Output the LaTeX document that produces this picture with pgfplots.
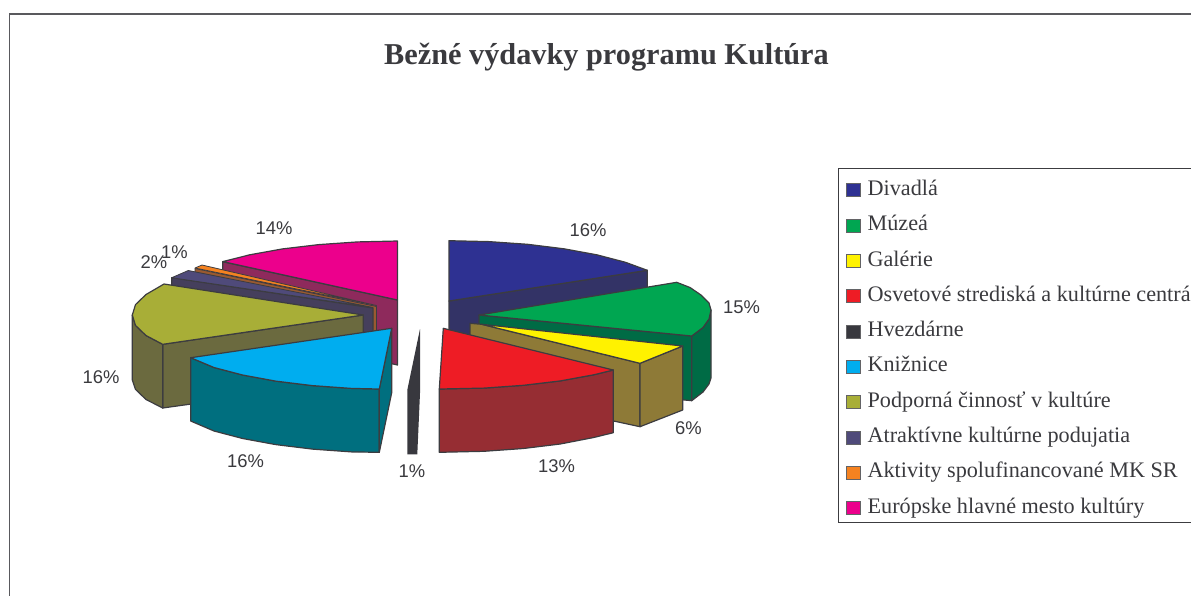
\documentclass[border=0pt]{standalone}
\usepackage{pgfplots}
\pgfplotsset{compat=1.18}
\usepackage{fontspec}
\setmainfont{Liberation Serif}
\newfontfamily\lab{Liberation Sans}
\newcommand\e[1]{\hspace*{4pt}#1}
\definecolor{edge}{HTML}{3C3C40}
\definecolor{tx}{HTML}{3A3A3E}
\definecolor{cBlue}{HTML}{2E3192}\definecolor{wBlue}{HTML}{333366}
\definecolor{cGreen}{HTML}{00A651}\definecolor{wGreen}{HTML}{006B45}
\definecolor{cYel}{HTML}{FFF200}\definecolor{wYel}{HTML}{8E7A37}
\definecolor{cRed}{HTML}{EE1C25}\definecolor{wRed}{HTML}{962D33}
\definecolor{cBlk}{HTML}{38383E}
\definecolor{cCyan}{HTML}{00ADEF}\definecolor{wCyan}{HTML}{006F7F}
\definecolor{cOli}{HTML}{A8AE37}\definecolor{wOli}{HTML}{6B6A3F}
\definecolor{cPur}{HTML}{4F4A7A}\definecolor{wPur}{HTML}{453F5C}
\definecolor{cOra}{HTML}{F58220}\definecolor{wOra}{HTML}{9A5A30}
\definecolor{cPink}{HTML}{EC008C}\definecolor{wPink}{HTML}{8E2A5C}
\pgfplotsset{
  sl/.style={fill=#1,draw=edge,line width=1.2pt,line join=round,forget plot},
  sq/.style={legend image code/.code={\draw[fill=#1,draw=edge!80,line width=0.9pt] (0pt,-6.5pt) rectangle (13.5pt,6.5pt);}}
}
\begin{document}
\begin{tikzpicture}
\path[use as bounding box] (0,0) rectangle (1191pt,595pt);
\begin{axis}[
  at={(0,0)},anchor=south west,
  scale only axis,width=1191pt,height=595pt,
  xmin=0,xmax=1191,ymin=0,ymax=595,y dir=reverse,
  hide axis,no markers,
  legend cell align=left,
  legend style={at={(axis cs:841,176.7)},anchor=north west,draw=none,fill=none,
    font=\fontsize{22.2}{24}\selectfont\color{tx},
    inner xsep=5pt,inner ysep=3.5pt,row sep=15.3pt,
    nodes={text height=15pt,text depth=5pt,inner sep=0pt,inner xsep=3pt}},
]
% legend entries, in the reference's order
\addlegendimage{sq=cBlue}\addlegendentry{\e{Divadlá}}
\addlegendimage{sq=cGreen}\addlegendentry{\e{Múzeá}}
\addlegendimage{sq=cYel}\addlegendentry{\e{Galérie}}
\addlegendimage{sq=cRed}\addlegendentry{\e{Osvetové strediská a kultúrne centrá}}
\addlegendimage{sq=cBlk}\addlegendentry{\e{Hvezdárne}}
\addlegendimage{sq=cCyan}\addlegendentry{\e{Knižnice}}
\addlegendimage{sq=cOli}\addlegendentry{\e{Podporná činnosť v kultúre}}
\addlegendimage{sq=cPur}\addlegendentry{\e{Atraktívne kultúrne podujatia}}
\addlegendimage{sq=cOra}\addlegendentry{\e{Aktivity spolufinancované MK SR}}
\addlegendimage{sq=cPink}\addlegendentry{\e{Európske hlavné mesto kultúry}}
% frame
\addplot[draw=edge!85,line width=1.5pt,forget plot] coordinates {(9.5,600) (9.5,14) (1200,14)};
% legend frame
\addplot[draw=edge,line width=0.9pt,forget plot] coordinates {(1200,168) (838,168) (838,522) (1200,522)};
% Divadla
\addplot[sl=wBlue] coordinates {(449,301) (647.3,270.3) (647.3,334) (449,365)} -- cycle;
\addplot[sl=cBlue] coordinates {(449,240.7) (488.9,241.6) (527.7,244.3) (564,248.8) (596.8,254.8) (625.2,262.2) (647.3,270.3) (449,301)} -- cycle;
% Muzea
\addplot[sl=wGreen] coordinates {(479,315) (479,380) (691.7,400.7) (691.7,336)} -- cycle;
\addplot[sl=wGreen] coordinates {(691.7,336) (703,327.5) (709,319) (711,310) (711,378) (709,384) (703,392) (691.7,400.7)} -- cycle;
\addplot[sl=cGreen] coordinates {(479,315) (676.7,282.3) (690,287.5) (701,295) (709,303) (711,310) (709,319) (703,327.5) (691.7,336)} -- cycle;
% Galerie
\addplot[sl=wYel] coordinates {(470,323.3) (481.7,324.3) (640,363.3) (640,426.7) (470,390)} -- cycle;
\addplot[sl=wYel] coordinates {(640,363.3) (682.7,346) (682.7,410) (640,426.7)} -- cycle;
\addplot[sl=cYel] coordinates {(481.7,324.3) (682.7,346) (640,363.3)} -- cycle;
% Osvetove
\addplot[sl=wRed] coordinates {(439.3,389) (483.9,388.1) (523.3,385.3) (560.3,380.9) (593.7,374.8) (613.3,370) (613.3,432.7) (593.7,437.5) (560.3,444) (523.3,448.5) (483.9,451.3) (439.3,452.3)} -- cycle;
\addplot[sl=cRed] coordinates {(443.3,328.3) (613.3,370) (593.7,374.8) (560.3,380.9) (523.3,385.3) (483.9,388.1) (439.3,389)} -- cycle;
% Europske
\addplot[sl=wPink] coordinates {(222.7,261.7) (397.5,300) (397.5,365) (222.7,326)} -- cycle;
\addplot[sl=cPink] coordinates {(397.5,241) (357.6,241.9) (318.8,244.6) (282.5,248.9) (249.7,254.8) (222.8,261.6) (397.5,300)} -- cycle;
% Aktivity
\addplot[sl=wOra,line width=0.8pt] coordinates {(195,268.5) (376.5,306.5) (376.5,371) (195,333)} -- cycle;
\addplot[sl=cOra,line width=0.8pt] coordinates {(195,268) (202,265) (376.5,305.5)} -- cycle;
% Atraktivne
\addplot[sl=wPur] coordinates {(171.7,277.7) (373,308) (373,372) (171.7,342)} -- cycle;
\addplot[sl=cPur,line width=0.8pt] coordinates {(171.7,277.7) (188.3,270.5) (373,307.5)} -- cycle;
% Podporna
\addplot[sl=wOli] coordinates {(162.7,344.3) (363.3,315) (363.3,380) (162.7,408)} -- cycle;
\addplot[sl=wOli] coordinates {(132.3,315) (135.5,325.4) (146,335.5) (162.7,344.3) (162.7,408) (146,399.5) (135.5,389.4) (132.3,380)} -- cycle;
\addplot[sl=cOli] coordinates {(363.3,315) (164,284) (146,294.5) (135.5,304.6) (132.3,315) (135.5,325.4) (146,335.5) (162.7,344.3)} -- cycle;
% Kniznice
\addplot[sl=wCyan] coordinates {(190.7,357.7) (214,367.5) (242.6,375) (275.7,381.1) (312.4,385.6) (351.4,388.4) (379.3,389) (379.3,452.3) (351.4,451.9) (312.4,449.1) (275.7,444.6) (242.6,438.5) (214,431) (190.7,421)} -- cycle;
\addplot[sl=wCyan] coordinates {(379.3,389) (391.7,328.3) (391.7,392.7) (379.3,452.3)} -- cycle;
\addplot[sl=cCyan] coordinates {(391.7,328.3) (190.7,357.7) (214,367.5) (242.6,375) (275.7,381.1) (312.4,385.6) (351.4,388.4) (379.3,389)} -- cycle;
% Hvezdarne
\addplot[fill=cBlk,draw=none,forget plot] coordinates {(420,329) (407.3,390) (407.3,454.3) (417.3,454.3) (420,393)} -- cycle;
% labels
\node[font=\fontsize{30.3}{31}\selectfont\bfseries,text=tx] at (axis cs:606.5,57) {Bežné výdavky programu Kultúra};
\begin{scope}[every node/.style={font=\lab\fontsize{18.4}{20}\selectfont,text=tx}]
\node at (axis cs:588,230) {16\%};
\node at (axis cs:741.5,307) {15\%};
\node at (axis cs:688.5,428) {6\%};
\node at (axis cs:556.5,466) {13\%};
\node at (axis cs:412,471) {1\%};
\node at (axis cs:245.5,461) {16\%};
\node at (axis cs:101,377) {16\%};
\node at (axis cs:154,262.5) {2\%};
\node at (axis cs:174.5,252) {1\%};
\node at (axis cs:274,228) {14\%};
\end{scope}
\end{axis}
\end{tikzpicture}
\end{document}
